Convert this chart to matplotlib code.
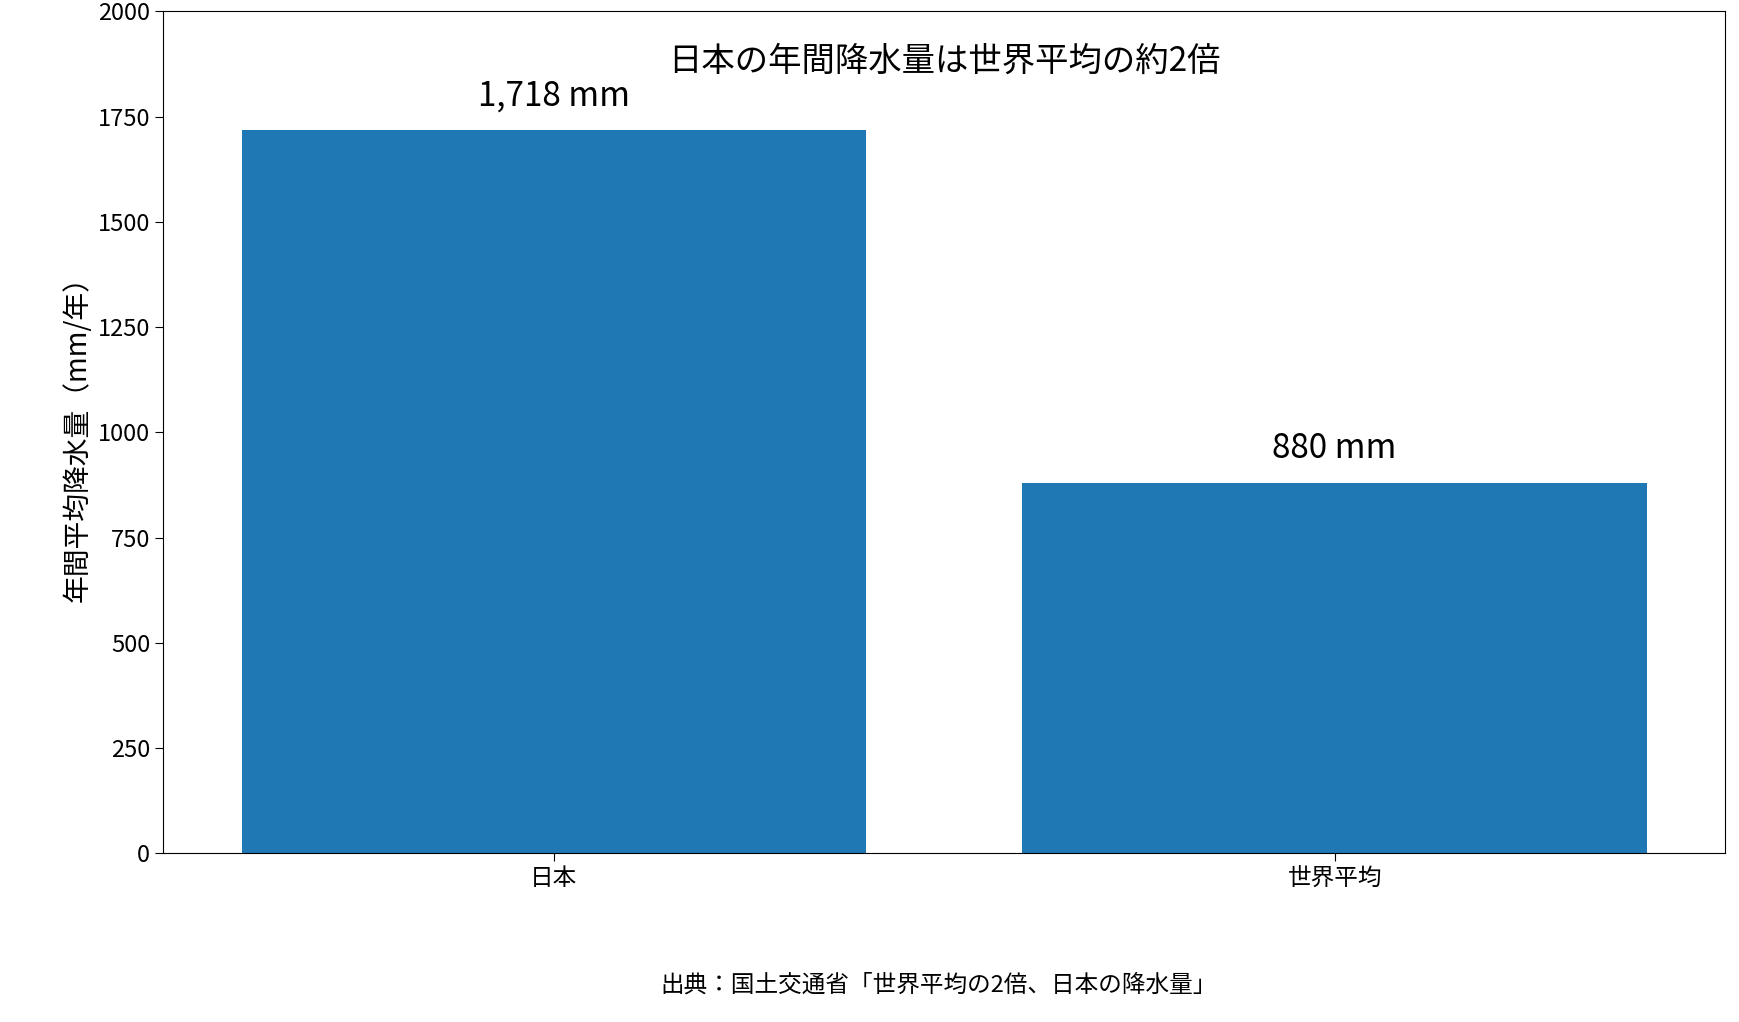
import matplotlib
matplotlib.use('Agg')
import matplotlib.pyplot as plt

plt.rcParams['font.family'] = ['Noto Sans CJK JP', 'DejaVu Sans']

# data
regions = ['日本', '世界平均']
rainfall = [1718, 880]
labels = ['1,718 mm', '880 mm']

fig = plt.figure(figsize=(17.39, 10.22), dpi=100)
ax = fig.add_axes([0.094, 0.165, 0.898, 0.824])

bars = ax.bar(regions, rainfall, color='#1f77b4', width=0.8)
for b, lab in zip(bars, labels):
    ax.text(b.get_x() + b.get_width() / 2, b.get_height() + 40, lab,
            ha='center', va='bottom', fontsize=24)

ax.set_ylim(0, 2000)
ax.set_xlim(-0.5, 1.5)
ax.set_ylabel('年間平均降水量（mm/年）', fontsize=20)
ax.tick_params(labelsize=17, length=6)
ax.set_title('日本の年間降水量は世界平均の約2倍', fontsize=24, y=0.92)

fig.text(0.54, 0.03, '出典：国土交通省「世界平均の2倍、日本の降水量」',
         ha='center', fontsize=17)

fig.savefig('out.png')
